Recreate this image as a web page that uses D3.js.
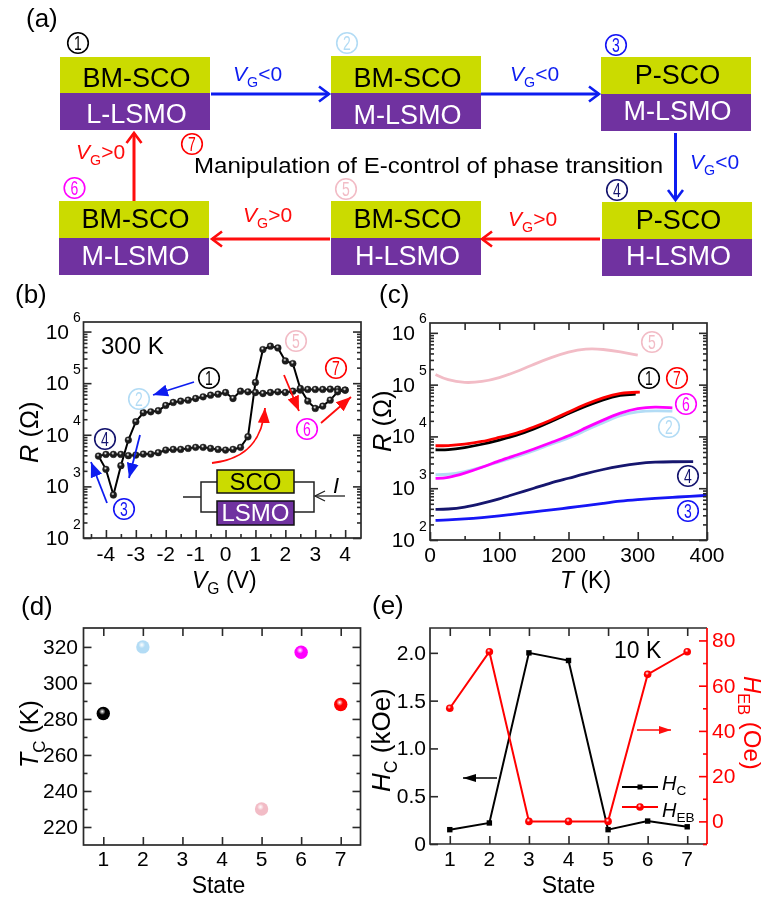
<!DOCTYPE html>
<html><head><meta charset="utf-8">
<style>html,body{margin:0;padding:0;background:#fff}svg{display:block}text{font-family:"Liberation Sans",Arial,sans-serif}</style>
<script src="https://cdnjs.cloudflare.com/ajax/libs/d3/7.8.5/d3.min.js"></script>
</head><body><div id="c"></div>
<script>
// ---------- data ----------
const gateV = [4,3.75,3.5,3.25,3,2.75,2.5,2.25,2,1.75,1.5,1.25,1,0.75,0.5,0.25,0,-0.25,-0.5,-0.75,-1,-1.25,-1.5,-1.75,-2,-2.25,-2.5,-2.75,-3,-3.25,-3.5,-3.75,-4,-4.25,
  -4,-3.75,-3.5,-3.25,-3,-2.75,-2.5,-2.25,-2,-1.75,-1.5,-1.25,-1,-0.75,-0.5,-0.25,0,0.25,0.5,0.75,1,1.25,1.5,1.75,2,2.25,2.5,2.75,3,3.25,3.5,3.75,4];
const gateR = [73300,76600,76600,75500,75500,75500,73300,70000,65900,68000,65900,63000,65900,68000,70000,50500,65900,61200,58600,54400,50500,46900,44900,42300,37000,29200,27900,26700,17900,7900,2520,682,2140,3870,
  4170,4170,4170,3930,4050,4230,4230,4490,5060,5210,5210,5450,5700,5700,5450,5210,5060,5210,5700,9160,103000,448000,520000,482000,270000,240000,78900,44900,32400,35900,46900,68000,73300];
const tempK = [8,25,50,75,100,125,150,175,200,225,250,275,300,325,350,375,400];
const rtState5 = [157000,122000,107000,113000,135000,177000,248000,334000,430000,499000,484000,430000,371000];
const rtState1 = [5530,5450,6040,7010,8500,10450,13800,19200,27800,38500,51700,63600,65600];
const rtState7 = [6600,6600,7010,7890,9570,11400,15100,20700,29400,42100,56500,69500,71700];
const rtState2 = [1820,1820,2080,2520,3250,4050,5290,7120,9140,13200,18400,25800,30400,31300,30800];
const rtState6 = [1550,1570,1930,2520,3400,4370,5700,7660,10100,14700,20700,28700,35200,37400,35700];
const rtState4 = [391,391,427,509,618,794,992,1280,1550,1930,2310,2680,3020,3200,3250,3250];
const rtState3 = [239,243,254,270,291,318,352,379,421,459,509,565,600,637,666,696,728];
const tcStates = [1,2,5,6,7];
const tcValues = [283,320,230,317,288];
const states = [1,2,3,4,5,6,7];
const hcValues = [0.15,0.22,2.0,1.92,0.15,0.24,0.18];
const hebValues = [50,75,0,0,0,65,75];
const vTicks = [-4,-3,-2,-1,0,1,2,3,4];
const tTicks = [0,100,200,300,400];
const decades = [100,1000,10000,100000,1000000];
const tcTicks = [220,240,260,280,300,320];
const hcTicks = [0,0.5,1,1.5,2];
const hebTicks = [0,20,40,60,80];

// ---------- styles ----------
const C = {1:"#000",2:"#b3dcf5",3:"#1414f5",4:"#14146e",5:"#f2bcc6",6:"#ff00ff",7:"#ff0000"};
const YEL="#cbdb05", PUR="#7030a0", BLUE="#0f1ff0", RED="#ff0a0a", AX="#2a2a2a", FS=21;

const root = d3.select("#c").append("svg").attr("width",768).attr("height",904).attr("viewBox","0 0 768 904");
const defs = root.append("defs");
defs.append("filter").attr("id","soft").attr("x",0).attr("y",0).attr("width","100%").attr("height","100%")
  .append("feGaussianBlur").attr("stdDeviation",0.35);
const svg = root.append("g").attr("filter","url(#soft)");
svg.append("rect").attr("width",768).attr("height",904).attr("fill","#fff");

function sphereGrad(id, c){
  const g = defs.append("radialGradient").attr("id",id).attr("cx","42%").attr("cy","35%").attr("r","62%");
  g.append("stop").attr("offset","0%").attr("stop-color","#fff").attr("stop-opacity",.95);
  g.append("stop").attr("offset","40%").attr("stop-color",c);
  g.append("stop").attr("offset","100%").attr("stop-color",c);
}
Object.keys(C).forEach(k=>sphereGrad("s"+k,C[k]));
sphereGrad("sg","#1c1c1c");
sphereGrad("sr","#ff0000");

function marker(id,c,w,h,open){
  const m = defs.append("marker").attr("id",id).attr("markerUnits","userSpaceOnUse")
    .attr("markerWidth",w+4).attr("markerHeight",h+4).attr("refX",w).attr("refY",h/2+2).attr("orient","auto");
  const p = m.append("path");
  if(open) p.attr("d",`M1,2 L${w},${h/2+2} L1,${h+2}`).attr("fill","none").attr("stroke",c).attr("stroke-width",2.6);
  else p.attr("d",`M0,2 L${w},${h/2+2} L0,${h+2} Z`).attr("fill",c);
}
marker("openB",BLUE,11,15,true); marker("openR",RED,11,15,true);
marker("fB",BLUE,15,12); marker("fR",RED,15,12);
marker("smR",RED,12,8); marker("smK","#000",13,8);

function arrow(x1,y1,x2,y2,c,w,m){
  svg.append("line").attr("x1",x1).attr("y1",y1).attr("x2",x2).attr("y2",y2)
    .attr("stroke",c).attr("stroke-width",w).attr("marker-end",`url(#${m})`);
}
function rich(x,y,parts,o={}){
  const fs=o.fs||FS, t=svg.append("text").attr("font-size",fs).attr("fill",o.c||"#000")
    .attr("text-anchor",o.anchor||"start");
  t.attr("transform",`translate(${x},${y})`+(o.rot?` rotate(${o.rot})`:""));
  let shift=0;
  parts.forEach(p=>{
    const s=t.append("tspan").text(p[0]); const f=p[1]||{};
    if(f.i) s.attr("font-style","italic");
    let target = f.sub? fs*0.27 : 0;
    if(f.sub) s.attr("font-size",fs*0.68);
    s.attr("dy",target-shift); shift=target;
  });
  return t;
}
function badge(x,y,i){
  const c=C[i+1];
  svg.append("circle").attr("cx",x).attr("cy",y).attr("r",10.3).attr("fill","none").attr("stroke",c).attr("stroke-width",1.6);
  svg.append("text").attr("transform",`translate(${x},${y+7}) scale(.7,1)`).attr("text-anchor","middle").attr("font-size",20).attr("fill",c).text(i+1);
}

// ---------- panel (a) ----------
[["(a)",26,27],["(b)",15,303],["(c)",379,303],["(d)",21,615],["(e)",372,614]].forEach(d=>
  svg.append("text").attr("x",d[1]).attr("y",d[2]).attr("font-size",26).text(d[0]));

const boxes=[
 {x:60,y:57,h1:36,h2:37,t:"BM-SCO",b:"L-LSMO",b1:87,b2:123},
 {x:331,y:56,h1:37,h2:36,t:"BM-SCO",b:"M-LSMO",b1:87,b2:124},
 {x:601,y:57,h1:37,h2:37,t:"P-SCO",b:"M-LSMO",b1:84,b2:120},
 {x:602,y:202,h1:37,h2:37,t:"P-SCO",b:"H-LSMO",b1:229,b2:265},
 {x:331,y:201,h1:37,h2:37,t:"BM-SCO",b:"H-LSMO",b1:228,b2:265},
 {x:59,y:201,h1:37,h2:37,t:"BM-SCO",b:"M-LSMO",b1:228,b2:265}];
boxes.forEach(d=>{
  svg.append("rect").attr("x",d.x).attr("y",d.y).attr("width",150).attr("height",d.h1).attr("fill",YEL);
  svg.append("rect").attr("x",d.x).attr("y",d.y+d.h1).attr("width",150).attr("height",d.h2).attr("fill",PUR);
  svg.append("text").attr("x",d.x+76.5).attr("y",d.b1).attr("text-anchor","middle").attr("font-size",27).text(d.t);
  svg.append("text").attr("x",d.x+76.5).attr("y",d.b2).attr("text-anchor","middle").attr("font-size",27).attr("fill","#fff").text(d.b);
});
arrow(211,94,329,94,BLUE,3,"openB"); arrow(481,94,599,94,BLUE,3,"openB");
arrow(675.5,133,675.5,200,BLUE,3,"openB");
arrow(600,239,482,239,RED,3,"openR"); arrow(330,239,212,239,RED,3,"openR");
arrow(134,201,134,133,RED,3,"openR");
[[233,81,"<0",BLUE],[510,81,"<0",BLUE],[690,169,"<0",BLUE],[76,159,">0",RED],[243,222,">0",RED],[508,226,">0",RED]].forEach(d=>
  rich(d[0],d[1],[["V",{i:1}],["G",{sub:1}],[d[2]]],{c:d[3],fs:21}));
[[78,43],[347,43],[616,45],[617,190],[346,189],[74.5,188],[192,144]].forEach((d,i)=>badge(d[0],d[1],i));
svg.append("text").attr("x",194).attr("y",173).attr("font-size",22).attr("textLength",469).attr("lengthAdjust","spacingAndGlyphs").text("Manipulation of E-control of phase transition");

// ---------- axes helpers ----------
function frame(x0,x1,y0,y1){
  svg.append("rect").attr("x",x0).attr("y",y0).attr("width",x1-x0).attr("height",y1-y0).attr("fill","none").attr("stroke",AX).attr("stroke-width",1.7);
}
function ax(gen,tx,ty,c){
  const g=svg.append("g").attr("transform",`translate(${tx},${ty})`).call(gen);
  g.select(".domain").remove();
  g.selectAll("line").attr("stroke",c||AX).attr("stroke-width",1.6);
  g.selectAll("text").remove();
  return g;
}
function minorDecades(){ const r=[]; decades.slice(0,-1).forEach(d=>{ for(let k=2;k<10;k++) r.push(d*k); }); return r; }
function logYAxes(y,x0,x1){
  const minors=minorDecades();
  [[d3.axisRight,x0],[d3.axisLeft,x1]].forEach(a=>{
    ax(a[0](y).tickValues(decades).tickSize(8).tickFormat(""),a[1],0);
    ax(a[0](y).tickValues(minors).tickSize(4).tickFormat(""),a[1],0);
  });
}
function decadeLabels(y,rx){
  decades.forEach(d=>{
    const e=Math.round(Math.log10(d));
    svg.append("text").attr("x",rx).attr("y",y(d)+7).attr("text-anchor","end").attr("font-size",FS).text("10");
    svg.append("text").attr("x",rx+4).attr("y",y(d)-9.5).attr("font-size",14).text(e);
  });
}
function bottomLabels(x,vals,yb,fmt,c){
  vals.forEach(v=>svg.append("text").attr("x",x(v)).attr("y",yb).attr("text-anchor","middle").attr("font-size",FS).attr("fill",c||"#000").text(fmt?fmt(v):v));
}

// ---------- panel (b) ----------
{
  const x=d3.scaleLinear().domain([-4.75,4.53]).range([83.5,361]);
  const y=d3.scaleLog().domain([100,Math.pow(10,6.185)]).range([538,322]);
  const pts=gateV.map((v,i)=>({v,r:gateR[i]}));
  svg.append("path").datum(pts).attr("fill","none").attr("stroke","#000").attr("stroke-width",2)
    .attr("d",d3.line().x(d=>x(d.v)).y(d=>y(d.r)));
  svg.append("g").selectAll("circle").data(pts).join("circle").attr("cx",d=>x(d.v)).attr("cy",d=>y(d.r)).attr("r",3.4)
    .attr("fill","url(#sg)").attr("stroke","#222").attr("stroke-width",.4);
  frame(83.5,361,322,538);
  logYAxes(y,83.5,361);
  ax(d3.axisTop(x).tickValues(vTicks).tickSize(8).tickFormat(""),0,538);
  ax(d3.axisTop(x).tickValues(vTicks.slice(0,-1).map(v=>v+.5).concat(-4.5)).tickSize(4).tickFormat(""),0,538);
  decadeLabels(y,69);
  bottomLabels(x,vTicks,561,v=>v<0?"-"+(-v):v);
  rich(38,463,[["R",{i:1}],[" (Ω)"]],{fs:25.5,rot:-90});
  rich(192,588,[["V",{i:1}],["G",{sub:1}],[" (V)"]],{fs:23});
  svg.append("text").attr("x",101).attr("y",354).attr("font-size",24).text("300 K");
  [[209,378],[139,399],[124,509],[105,439],[296,341],[307,429],[336,368]].forEach((d,i)=>badge(d[0],d[1],i));
  arrow(194,382,153,395,BLUE,1.8,"fB"); arrow(140,435,129,478,BLUE,1.8,"fB"); arrow(107,503,91,462,BLUE,1.8,"fB");
  svg.append("path").attr("d","M212,463 C238,460 262,448 265,408").attr("fill","none").attr("stroke",RED).attr("stroke-width",1.8).attr("marker-end","url(#fR)");
  arrow(284,375,299,411,RED,1.8,"fR"); arrow(321,423,351,397,RED,1.8,"fR");
  // inset circuit
  svg.append("path").attr("d","M183,497 H201 M217,482 H201 V512 H217 M294,482 H314 V512 H294").attr("fill","none").attr("stroke","#222").attr("stroke-width",1.5);
  svg.append("line").attr("x1",345).attr("y1",496).attr("x2",315).attr("y2",496).attr("stroke","#222").attr("stroke-width",1.3);
  svg.append("path").attr("d","M325,491 L315,496 L325,501").attr("fill","none").attr("stroke","#222").attr("stroke-width",1.3);
  svg.append("rect").attr("x",217).attr("y",470).attr("width",77).attr("height",23).attr("fill",YEL).attr("stroke","#111").attr("stroke-width",1.5);
  svg.append("rect").attr("x",217).attr("y",501).attr("width",77).attr("height",24).attr("fill",PUR).attr("stroke","#111").attr("stroke-width",1.5);
  svg.append("text").attr("x",255.5).attr("y",490).attr("text-anchor","middle").attr("font-size",24).text("SCO");
  svg.append("text").attr("x",255.5).attr("y",521).attr("text-anchor","middle").attr("font-size",24).attr("fill","#fff").text("LSMO");
  svg.append("text").attr("x",333).attr("y",493).attr("font-size",22).attr("font-style","italic").text("I");
}

// ---------- panel (c) ----------
{
  const x=d3.scaleLinear().domain([0,400]).range([430,707]);
  const y=d3.scaleLog().domain([100,Math.pow(10,6.19)]).range([540,323]);
  const ln=d3.line().curve(d3.curveBasis).x(d=>x(d.t)).y(d=>y(d.r));
  const series=[[rtState5,5,300],[rtState2,2,350],[rtState6,6,350],[rtState1,1,297],[rtState7,7,303],[rtState4,4,380],[rtState3,3,400]];
  series.forEach(s=>{
    const vals=s[0];
    const pts=vals.map((r,i)=>({t:i===vals.length-1?s[2]:tempK[i],r}));
    svg.append("path").datum(pts).attr("fill","none").attr("stroke",C[s[1]]).attr("stroke-width",2.8).attr("d",ln);
  });
  frame(430,707,323,540);
  logYAxes(y,430,707);
  const t50=d3.range(50,400,50);
  ax(d3.axisTop(x).tickValues(tTicks).tickSize(8).tickFormat(""),0,540);
  ax(d3.axisTop(x).tickValues([50,150,250,350]).tickSize(4).tickFormat(""),0,540);
  ax(d3.axisBottom(x).tickValues(t50).tickSize(7).tickFormat(""),0,323);
  decadeLabels(y,415);
  bottomLabels(x,tTicks,562);
  rich(391,452,[["R",{i:1}],[" (Ω)"]],{fs:25.5,rot:-90});
  rich(560,588,[["T",{i:1}],[" (K)"]],{fs:23});
  [[649,378],[669,427],[688,511],[688,476],[652,342],[686,404],[677,378]].forEach((d,i)=>badge(d[0],d[1],i));
}

// ---------- panel (d) ----------
{
  const x=d3.scaleLinear().domain([0.5,7.5]).range([83.5,360.5]);
  const y=d3.scaleLinear().domain([210,330.5]).range([845,628]);
  frame(83.5,360.5,628,845);
  ax(d3.axisTop(x).tickValues(states).tickSize(8).tickFormat(""),0,845);
  ax(d3.axisBottom(x).tickValues(states).tickSize(8).tickFormat(""),0,628);
  const minors=[230,250,270,290,310];
  [[d3.axisRight,83.5],[d3.axisLeft,360.5]].forEach(a=>{
    ax(a[0](y).tickValues(tcTicks).tickSize(8).tickFormat(""),a[1],0);
    ax(a[0](y).tickValues(minors).tickSize(4).tickFormat(""),a[1],0);
  });
  tcTicks.forEach(v=>svg.append("text").attr("x",78).attr("y",y(v)+7).attr("text-anchor","end").attr("font-size",FS).text(v));
  bottomLabels(x,states,866);
  svg.append("text").attr("x",218.5).attr("y",893).attr("text-anchor","middle").attr("font-size",23).text("State");
  rich(38,768,[["T",{i:1}],["C",{sub:1}],[" (K)"]],{fs:25,rot:-90});
  svg.append("g").selectAll("circle").data(tcStates).join("circle")
    .attr("cx",d=>x(d)).attr("cy",(d,i)=>y(tcValues[i])).attr("r",6.7).attr("fill",d=>`url(#s${d})`);
}

// ---------- panel (e) ----------
{
  const x=d3.scaleLinear().domain([0.5,7.5]).range([430,707]);
  const y=d3.scaleLinear().domain([0,2.26]).range([844,628]);
  const y2=d3.scaleLinear().domain([-10,85.5]).range([844,628]);
  const lh=d3.line().x((d,i)=>x(states[i])).y(d=>y(d));
  const le=d3.line().x((d,i)=>x(states[i])).y(d=>y2(d));
  svg.append("path").attr("d",lh(hcValues)).attr("fill","none").attr("stroke","#000").attr("stroke-width",2);
  svg.append("g").selectAll("rect").data(hcValues).join("rect").attr("x",(d,i)=>x(states[i])-2.7).attr("y",d=>y(d)-2.7).attr("width",5.4).attr("height",5.4).attr("fill","#000");
  svg.append("path").attr("d",le(hebValues)).attr("fill","none").attr("stroke","#ff0000").attr("stroke-width",2);
  svg.append("g").selectAll("circle").data(hebValues).join("circle").attr("cx",(d,i)=>x(states[i])).attr("cy",d=>y2(d)).attr("r",3.8).attr("fill","url(#sr)");
  svg.append("path").attr("d","M707,628 H430 V844 H707").attr("fill","none").attr("stroke",AX).attr("stroke-width",1.7);
  svg.append("line").attr("x1",707).attr("x2",707).attr("y1",628).attr("y2",844).attr("stroke","#ff0000").attr("stroke-width",1.7);
  ax(d3.axisTop(x).tickValues(states).tickSize(8).tickFormat(""),0,844);
  ax(d3.axisBottom(x).tickValues(states).tickSize(8).tickFormat(""),0,628);
  ax(d3.axisRight(y).tickValues(hcTicks).tickSize(8).tickFormat(""),430,0);
  ax(d3.axisLeft(y2).tickValues(hebTicks).tickSize(8).tickFormat(""),707,0,"#ff0000");
  ax(d3.axisLeft(y2).tickValues([-10,10,30,50,70]).tickSize(4).tickFormat(""),707,0,"#ff0000");
  hcTicks.forEach(v=>svg.append("text").attr("x",426).attr("y",y(v)+7).attr("text-anchor","end").attr("font-size",FS).text(v===0?"0":v.toFixed(1)));
  hebTicks.forEach(v=>svg.append("text").attr("x",712).attr("y",y2(v)+7).attr("font-size",FS).attr("fill","#ff0000").text(v));
  bottomLabels(x,states,866);
  svg.append("text").attr("x",568.5).attr("y",893).attr("text-anchor","middle").attr("font-size",23).text("State");
  rich(390,792,[["H",{i:1}],["C",{sub:1}],[" (kOe)"]],{fs:26,rot:-90});
  rich(744,676,[["H",{i:1}],["EB",{sub:1}],[" (Oe)"]],{fs:24,rot:90,c:"#ff0000"});
  svg.append("text").attr("x",614).attr("y",658).attr("font-size",23).text("10 K");
  svg.append("line").attr("x1",622).attr("x2",658).attr("y1",787).attr("y2",787).attr("stroke","#000").attr("stroke-width",2);
  svg.append("rect").attr("x",637.5).attr("y",784.5).attr("width",5).attr("height",5);
  rich(662,790,[["H",{i:1}],["C",{sub:1}]],{fs:20});
  svg.append("line").attr("x1",622).attr("x2",658).attr("y1",807).attr("y2",807).attr("stroke","#ff0000").attr("stroke-width",2);
  svg.append("circle").attr("cx",640).attr("cy",807).attr("r",3.8).attr("fill","url(#sr)");
  rich(662,817,[["H",{i:1}],["EB",{sub:1}]],{fs:20});
  arrow(497,778,463,778,"#000",1.5,"smK");
  arrow(637,730,671,730,RED,1.5,"smR");
}
</script></body></html>
